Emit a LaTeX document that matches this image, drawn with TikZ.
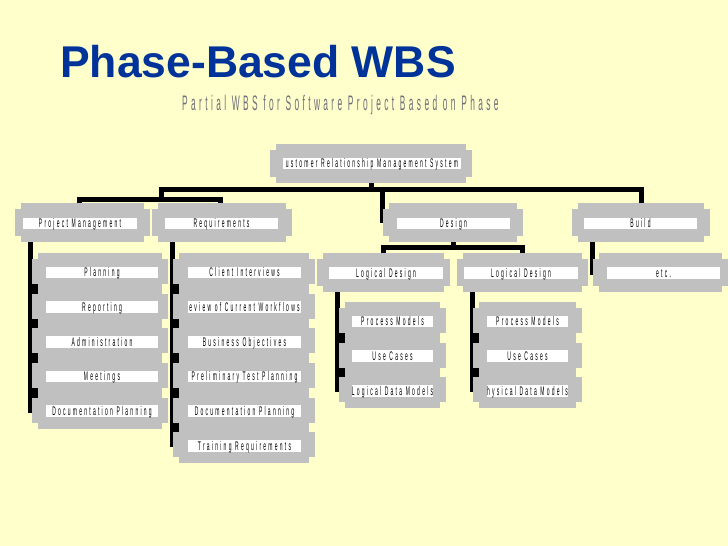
\documentclass[tikz,border=0pt]{standalone}
\usepackage{fontspec}
\setmainfont{Liberation Sans}
\newfontfamily\lblfont[FakeStretch=0.4,LetterSpace=18]{Liberation Sans}
\newfontfamily\subfont[FakeStretch=0.4,LetterSpace=16]{Liberation Sans}
\usetikzlibrary{calc}
\definecolor{bgyellow}{RGB}{255,255,204}
\definecolor{boxgray}{RGB}{192,192,192}
\definecolor{titleblue}{RGB}{0,51,153}
\definecolor{subgray}{RGB}{110,110,120}
\pgfdeclarelayer{bg}
\pgfsetlayers{bg,main}
\tikzset{
 gbox/.style={inner sep=0pt, outer sep=0pt, path picture={
   \fill[boxgray] ([xshift=6pt]path picture bounding box.south west) rectangle ([xshift=-6pt]path picture bounding box.north east);
   \fill[boxgray] ([yshift=6pt]path picture bounding box.south west) rectangle ([yshift=-6pt]path picture bounding box.north east);}},
 wlab/.style={fill=white, inner sep=0pt, outer sep=0pt, minimum height=11.5pt, text height=10pt, text depth=1.5pt, font=\lblfont\fontsize{12.5}{12.5}\selectfont, text=black},
 conn/.style={line width=5pt, black, line join=miter},
 notchfill/.style={fill=black},
}
\newcommand\gb[5]{\node[gbox,minimum width={#4-#2},minimum height={#5-#3}] (#1) at ({(#2+#4)/2},{(#3+#5)/2}) {};}
\newcommand\wl[5]{\node[wlab,minimum width={#3-#2}] (#1) at ({(#2+#3)/2},#4) {#5};}
\begin{document}
\begin{tikzpicture}[x=1pt,y=-1pt]
\useasboundingbox (0,0) rectangle (728,546);
\begin{pgfonlayer}{bg}
\fill[bgyellow] (0,0) rectangle (728,546);
\end{pgfonlayer}

% titles
\node[anchor=base west, inner sep=0pt, text=titleblue, font=\fontsize{44.5}{44.5}\selectfont\bfseries] (title) at (60,77) {Phase-Based WBS};
\node[anchor=base west, inner sep=0pt, text=subgray, font=\subfont\fontsize{21}{21}\selectfont] (sub) at (182,110) {Partial WBS for Software Project Based on Phase};

% root
\gb{root}{270}{144}{472}{183}
\wl{roott}{283}{461}{163.5}{ustomer Relationship Management System}

% level 1
\gb{pm}{15}{203}{150}{242}
\wl{pmt}{23}{137}{223.5}{Project Management}
\gb{req}{152}{203}{292}{242}
\wl{reqt}{165}{278}{223.5}{Requirements}
\gb{design}{383}{203}{523}{242}
\wl{designt}{397}{510}{223.5}{Design}
\gb{build}{572}{203}{710}{242}
\wl{buildt}{584}{697}{223.5}{Build}

% PM children
\gb{pm1}{32}{253}{168}{290}
\wl{pm1t}{46}{158}{272.5}{Planning}
\gb{pm2}{32}{287.67}{168}{324.67}
\wl{pm2t}{46}{158}{307.17}{Reporting}
\gb{pm3}{32}{322.33}{168}{359.33}
\wl{pm3t}{46}{158}{341.83}{Administration}
\gb{pm4}{32}{357}{168}{394}
\wl{pm4t}{46}{158}{376.5}{Meetings}
\gb{pm5}{32}{391.67}{168}{428.67}
\wl{pm5t}{46}{158}{411.17}{Documentation Planning}

% Requirements children
\gb{rq1}{173}{253}{315}{290}
\wl{rq1t}{188}{301}{272.5}{Client Interviews}
\gb{rq2}{173}{287.67}{315}{324.67}
\wl{rq2t}{188}{301}{307.17}{eview of Current Workflows}
\gb{rq3}{173}{322.33}{315}{359.33}
\wl{rq3t}{188}{301}{341.83}{Business Objectives}
\gb{rq4}{173}{357}{315}{394}
\wl{rq4t}{188}{301}{376.5}{Preliminary Test Planning}
\gb{rq5}{173}{391.67}{315}{428.67}
\wl{rq5t}{188}{301}{411.17}{Documentation Planning}
\gb{rq6}{173}{426.33}{315}{463.33}
\wl{rq6t}{188}{301}{445.83}{Training Requirements}

% Design children
\gb{ld1}{317}{253}{450}{292}
\wl{ld1t}{329}{443}{273}{Logical Design}
\gb{ld2}{457}{253}{588}{292}
\wl{ld2t}{464}{578}{273}{Logical Design}

% Build child
\gb{etc}{593}{253}{728}{292}
\wl{etct}{607}{720}{273}{etc.}

% Logical design 1 children
\gb{la1}{339}{302}{446}{339}
\wl{la1t}{352}{433}{321.5}{Process Models}
\gb{la2}{339}{336.67}{446}{373.67}
\wl{la2t}{352}{433}{356.17}{Use Cases}
\gb{la3}{339}{371.33}{446}{408.33}
\wl{la3t}{352}{433}{390.83}{Logical Data Models}

% Logical design 2 children
\gb{lb1}{473}{302}{582}{339}
\wl{lb1t}{487}{568}{321.5}{Process Models}
\gb{lb2}{473}{336.67}{582}{373.67}
\wl{lb2t}{487}{568}{356.17}{Use Cases}
\gb{lb3}{473}{371.33}{582}{408.33}
\wl{lb3t}{487}{568}{390.83}{hysical Data Models}

% connectors (behind the boxes)
\begin{pgfonlayer}{bg}
\coordinate (bL) at (161.5,189.5);
\coordinate (bM) at (161.5,199.5);
\coordinate (dj) at (453,247.5);
\draw[conn] (root.south) -- (root.south |- bL);
\draw[conn] (bM) -- (bL) -| (build.north);
\draw[conn] ([xshift=-3pt]pm.north) |- (bM) -| ([xshift=-1.5pt]req.north);
\draw[conn] ([xshift=-1pt]design.west |- bL) -- ([xshift=-1pt]design.west);
\draw[conn] (design.south) -- (dj);
\draw[conn] (ld1.north) |- (dj) -| (ld2.north);
\draw[conn] ([xshift=20pt]build.south west) |- (etc.west);
% child bars
\draw[conn] ([xshift=15.5pt]pm.south west) |- (pm5.west);
\fill[notchfill] ($(pm1.west)+(-4,0)$) rectangle ($(pm5.west)+(6,0)$);
\draw[conn] ([xshift=20pt]req.south west) |- (rq6.west);
\fill[notchfill] ($(rq1.west)+(-3,0)$) rectangle ($(rq6.west)+(6,0)$);
\draw[conn] ([xshift=20.5pt]ld1.south west) |- (la3.west);
\fill[notchfill] ($(la1.west)+(-4,0)$) rectangle ($(la3.west)+(6,0)$);
\draw[conn] ([xshift=15.5pt]ld2.south west) |- (lb3.west);
\fill[notchfill] ($(lb1.west)+(-3,0)$) rectangle ($(lb3.west)+(6,0)$);
\end{pgfonlayer}
\end{tikzpicture}
\end{document}
